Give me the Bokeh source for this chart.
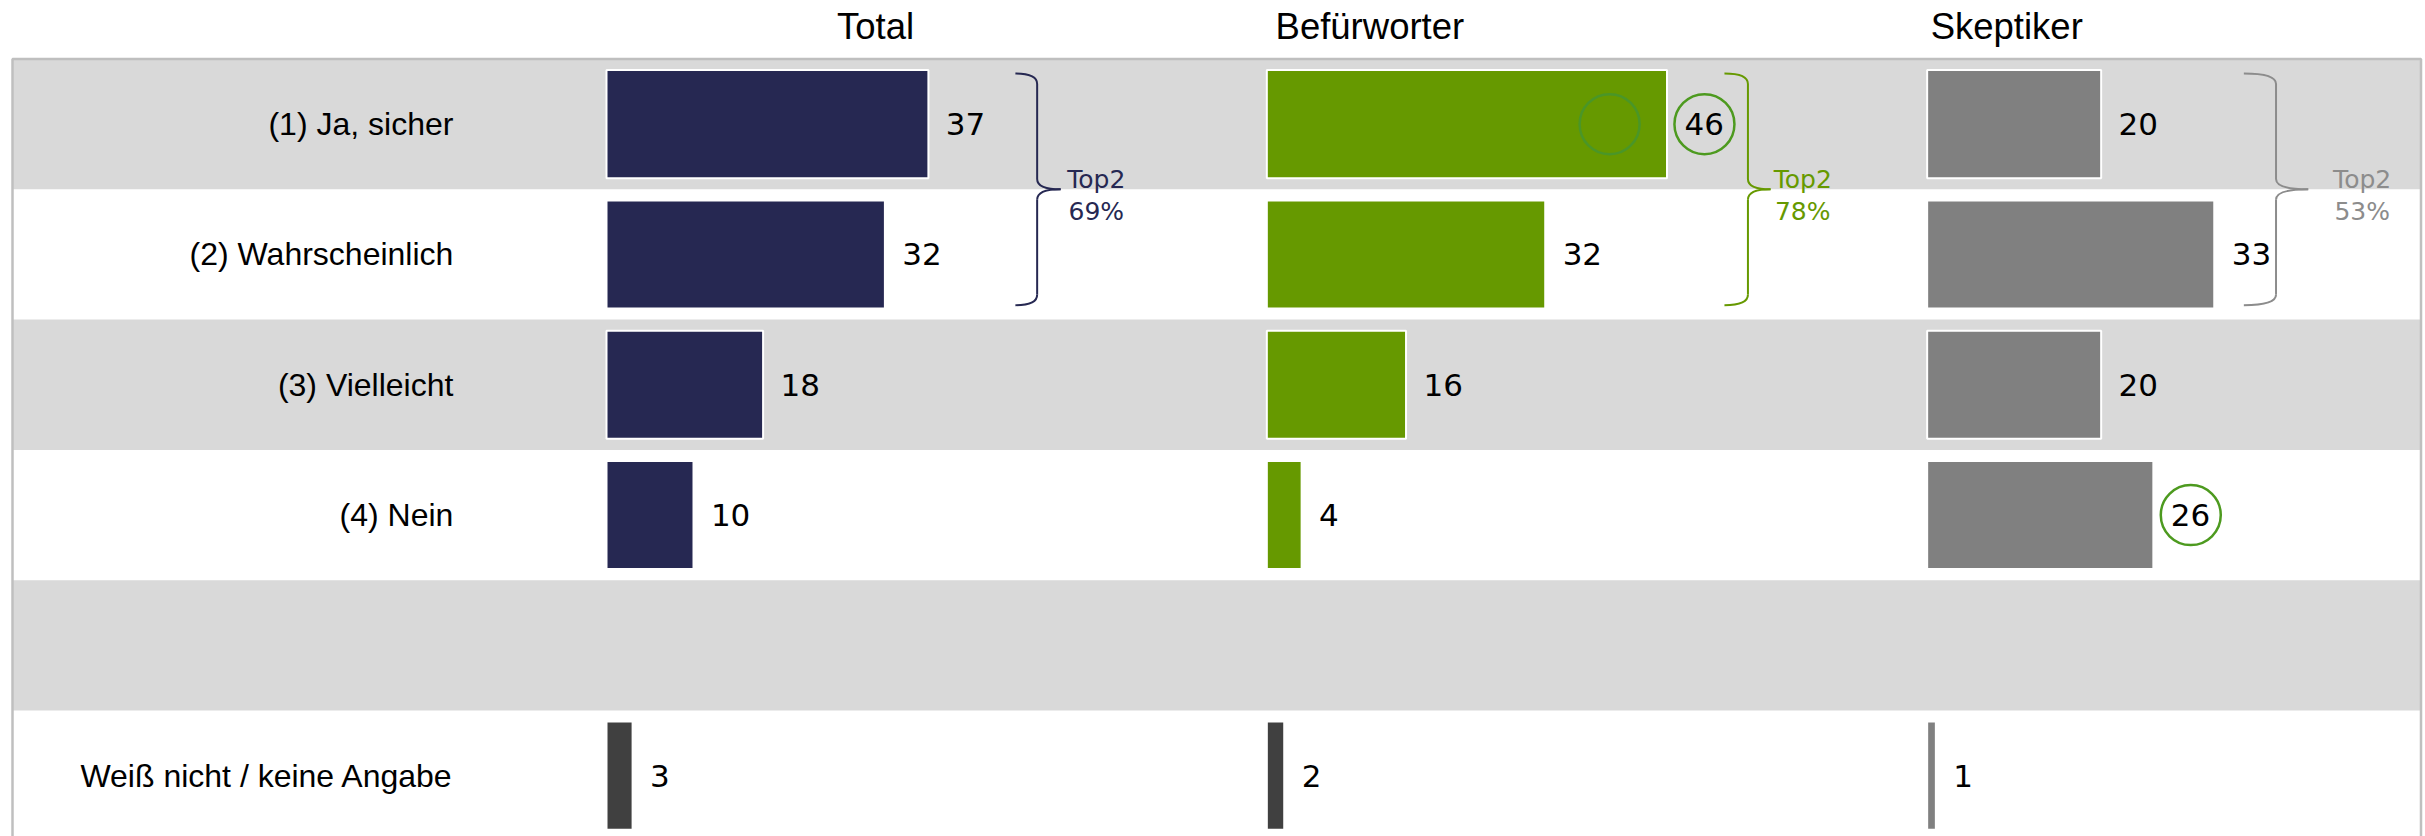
from bokeh.plotting import figure
from bokeh.models import Range1d
from bokeh.core.properties import value
from bokeh.embed import file_html
from bokeh.resources import INLINE

# ---------------- data ----------------
categories = ["(1) Ja, sicher", "(2) Wahrscheinlich", "(3) Vielleicht",
              "(4) Nein", "", "Weiß nicht / keine Angabe"]
groups = ["Total", "Befürworter", "Skeptiker"]
total = [37, 32, 18, 10, None, 3]
befuerworter = [46, 32, 16, 4, None, 2]
skeptiker = [20, 33, 20, 26, None, 1]
top2_label = ["Top2", "Top2", "Top2"]
top2_value = ["69%", "78%", "53%"]
highlight_rows = [None, 0, 3]          # row whose label is circled, per group

series = [total, befuerworter, skeptiker]

# ---------------- styling / layout ----------------
main_colors = ["#262852", "#669900", "#808080"]
dk_colors = ["#404040", "#404040", "#808080"]
top2_colors = ["#262852", "#669900", "#8c8c8c"]
band_color = "#d9d9d9"
border_color = "#bfbfbf"

W, H = 2425, 836
PX = 8.7                     # pixels per percentage point
ROW = 130.3                  # pixels per row
x0 = -606 / PX
y_top = -0.5 - 58.5 / ROW
y_bot = y_top + H / ROW

offsets = [0, 75.9, 151.8]
title_dx = [26.5, 1.0, 0.4]
brace_end = [47.0, 52.6, 36.4]
brace_spine = [49.5, 55.3, 40.1]
brace_tip = [52.2, 57.9, 43.8]
top2_x = [56.3, 61.6, 50.0]

p = figure(width=W, height=H, output_backend="svg", toolbar_location=None,
           x_range=Range1d(x0, x0 + W / PX), y_range=Range1d(y_bot, y_top),
           x_axis_location=None, y_axis_location=None, min_border=0,
           outline_line_color=None, background_fill_color="white")
p.xgrid.visible = False
p.ygrid.visible = False

band_l = (12 - 606) / PX
band_r = (2420.5 - 606) / PX
band_rows = [r for r in range(len(categories)) if r % 2 == 0]
p.quad(left=band_l, right=band_r, top=[r - 0.5 for r in band_rows],
       bottom=[r + 0.5 for r in band_rows], fill_color=band_color, line_color=None)
p.quad(left=[band_l], right=[band_r], top=[-0.5], bottom=[6.2],
       fill_color=None, line_color=border_color, line_width=2.5)

font_lab = value("Liberation Sans")
font_val = value("DejaVu Sans")

# category labels
p.text(x=[-17.6] * len(categories), y=list(range(len(categories))), text=categories,
       text_font=font_lab, text_font_size="32px", text_align="right",
       text_baseline="middle", text_color="black")

# column titles
p.text(x=[o + d for o, d in zip(offsets, title_dx)], y=[y_top + 26 / ROW] * 3,
       text=groups, text_font=font_lab, text_font_size="36.5px",
       text_align="left", text_baseline="middle", text_color="black")

for g, vals in enumerate(series):
    off = offsets[g]
    rows = [r for r, v in enumerate(vals) if v is not None]
    vs = [vals[r] for r in rows]
    cols = [dk_colors[g] if r == 5 else main_colors[g] for r in rows]
    p.hbar(y=rows, left=off, right=[off + v for v in vs], height=0.83,
           fill_color=cols, line_color="white", line_width=2)
    p.text(x=[off + v + 2.0 for v in vs], y=rows, text=[str(v) for v in vs],
           text_font=font_val, text_font_size="31px", text_align="left",
           text_baseline="middle", text_color="black")

    # Top2 brace
    top, bot, mid, dy = -0.389, 1.389, 0.5, 0.08
    e, s, t = off + brace_end[g], off + brace_spine[g], off + brace_tip[g]
    c = main_colors[g] if g < 2 else "#8c8c8c"
    p.quadratic(x0=[e, s, t, s], y0=[top, mid - dy, mid, bot - dy],
                x1=[s, t, s, e], y1=[top + dy, mid, mid + dy, bot],
                cx=[s, s, s, s], cy=[top, mid, mid, bot],
                line_color=c, line_width=2)
    p.segment(x0=[s, s], y0=[top + dy, mid + dy], x1=[s, s], y1=[mid - dy, bot - dy],
              line_color=c, line_width=2)
    p.text(x=[off + top2_x[g]] * 2, y=[0.425, 0.670],
           text=[top2_label[g], top2_value[g]], text_font=font_val,
           text_font_size="25px", text_align="center", text_baseline="middle",
           text_color=top2_colors[g])

    hr = highlight_rows[g]
    if hr is not None:
        p.scatter(x=[off + vals[hr] + 2.0 + 2.3], y=[hr], marker="circle", size=60,
                  fill_color=None, line_color="#4d9a1f", line_width=2.5)

# faint ghost circle inside the top Befürworter bar
p.scatter(x=[offsets[1] + befuerworter[0] - 6.6], y=[0], marker="circle", size=60,
          fill_color=None, line_color="#4a9628", line_width=2.5)

open("out.html", "w").write(file_html(p, INLINE))
